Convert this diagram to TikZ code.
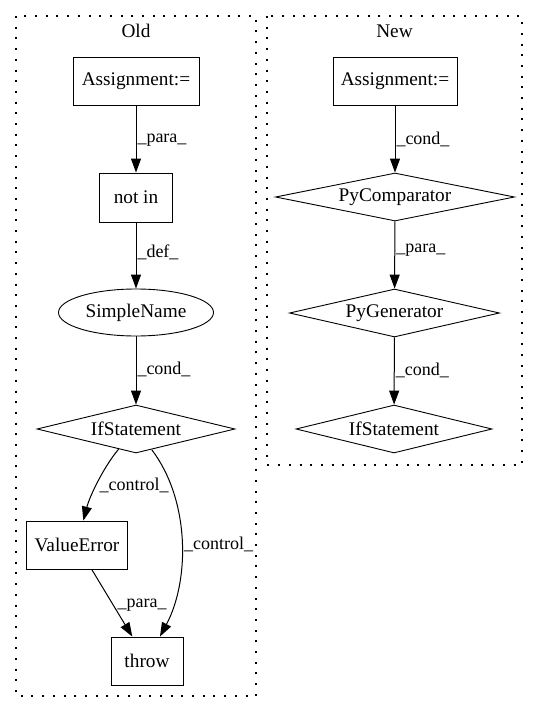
\documentclass[tikz,border=0pt]{standalone}
\usepackage{fontspec}
\setmainfont{Liberation Serif}
\usetikzlibrary{shapes.geometric,arrows.meta}
\begin{document}
\begin{tikzpicture}[x=1pt,y=-1pt,
  every node/.style={font=\fontsize{19.3}{23}\selectfont},
  boxn/.style={draw,line width=0.9pt,rectangle,minimum height=48pt,inner sep=0pt},
  ellip/.style={draw,line width=0.9pt,ellipse,minimum width=155pt,minimum height=47pt,inner sep=0pt},
  dia/.style={draw,line width=0.9pt,diamond,minimum height=48pt,inner sep=0pt,aspect=4},
  edge/.style={line width=1pt,-{Triangle[length=14pt,width=10pt]}},
  lbl/.style={anchor=west,inner sep=1pt,font=\fontsize{18}{22}\selectfont},
  clus/.style={draw,line width=1.3pt,dash pattern=on 2pt off 8.7pt}
]
\useasboundingbox (0,0) rectangle (539,712);
% clusters
\draw[clus] (16,16) rectangle (256,696);
\draw[clus] (267,16) rectangle (522,465);
\node (lold) at (136,31) {Old};
\node (lnew) at (394.5,31) {New};
% Old
\node[boxn,minimum width=126pt] (oa) at (136,81) {Assignment:=};
\node[boxn,minimum width=73pt,minimum height=49pt] (oni) at (136,197.5) {not in};
\node[ellip] (osn) at (136,312.5) {SimpleName};
\node[dia,minimum width=198pt] (oif) at (136,429) {IfStatement};
\node[boxn,minimum width=101pt] (ove) at (77,545) {ValueError};
\node[boxn,minimum width=72pt] (oth) at (147,661) {throw};
% New
\node[boxn,minimum width=124pt] (na) at (395,81) {Assignment:=};
\node[dia,minimum width=239pt] (npc) at (395,197) {PyComparator};
\node[dia,minimum width=210pt] (npg) at (394.5,313) {PyGenerator};
\node[dia,minimum width=196pt] (nif) at (394,429) {IfStatement};
% Old edges
\draw[edge] (oa) -- node[lbl,pos=0.52] {\_para\_} (oni);
\draw[edge] (oni) -- node[lbl,pos=0.45] {\_def\_} (osn);
\draw[edge] (osn) -- node[lbl,pos=0.49] {\_cond\_} (oif);
\draw[edge] (oif) .. controls (105,465) and (90,495) .. node[lbl,pos=0.56,xshift=2pt] {\_control\_} (ove);
\draw[edge] (oif) .. controls (190,500) and (190,580) .. node[lbl,pos=0.52,xshift=1pt] {\_control\_} (oth);
\draw[edge] (ove) -- node[lbl,pos=0.53,xshift=3pt] {\_para\_} (oth);
% New edges
\draw[edge] (na) -- node[lbl,pos=0.5] {\_cond\_} (npc);
\draw[edge] (npc) -- node[lbl,pos=0.43] {\_para\_} (npg);
\draw[edge] (npg) -- node[lbl,pos=0.49] {\_cond\_} (nif);
\end{tikzpicture}
\end{document}
